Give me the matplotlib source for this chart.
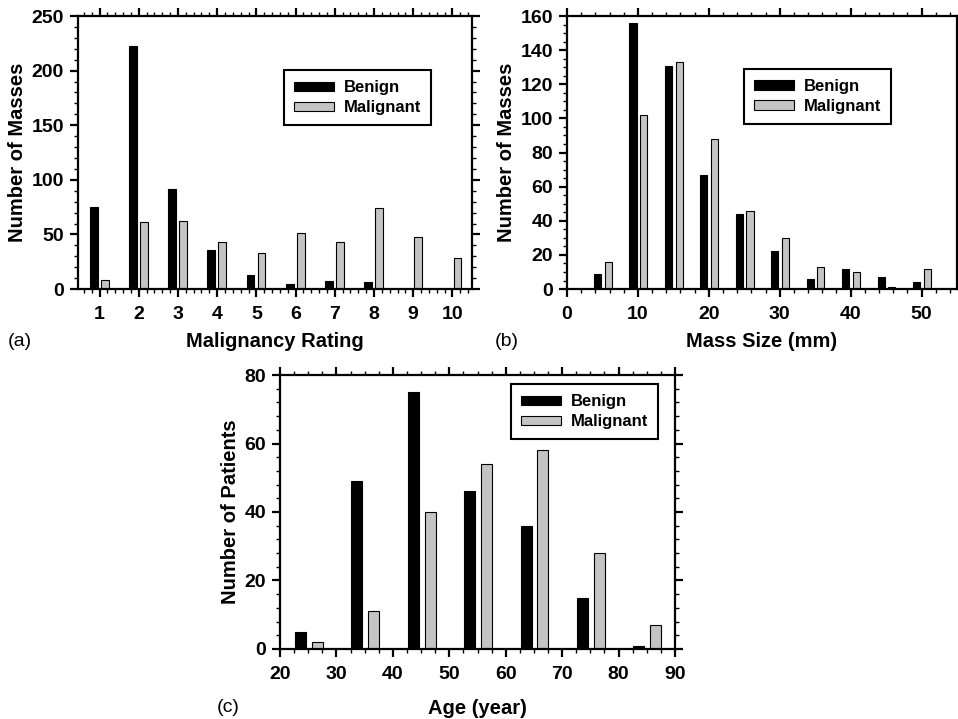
import matplotlib.pyplot as plt
from matplotlib.ticker import MultipleLocator

plt.rcParams['font.family'] = ['Liberation Sans', 'DejaVu Sans']

# (a) malignancy rating
rating = [1, 2, 3, 4, 5, 6, 7, 8, 9, 10]
rating_benign = [75, 223, 92, 36, 13, 5, 7, 6, 0, 0]
rating_malignant = [8, 61, 62, 43, 33, 51, 43, 74, 48, 28]

# (b) mass size (mm)
size_bins = [5, 10, 15, 20, 25, 30, 35, 40, 45, 50]
size_benign = [9, 156, 131, 67, 44, 22, 6, 12, 7, 4]
size_malignant = [16, 102, 133, 88, 46, 30, 13, 10, 1, 12]

# (c) age (year)
age_bins = [25, 35, 45, 55, 65, 75, 85]
age_benign = [5, 49, 75, 46, 36, 15, 1]
age_malignant = [2, 11, 40, 54, 58, 28, 7]

GRAY = '#c4c4c4'

fig = plt.figure(figsize=(9.58, 7.19), dpi=100)
ax1 = fig.add_axes([0.0814, 0.598, 0.4113, 0.3797])
ax2 = fig.add_axes([0.5919, 0.598, 0.4071, 0.3797])
ax3 = fig.add_axes([0.2923, 0.0974, 0.4123, 0.381])


def bars(ax, x, benign, malignant, off_b, off_m, width):
    ax.bar([v + off_b for v in x], benign, width=width, color='black',
           edgecolor='black', linewidth=0.8, label='Benign')
    ax.bar([v + off_m for v in x], malignant, width=width, color=GRAY,
           edgecolor='black', linewidth=0.8, label='Malignant')


def style(ax, xmaj, xmin, ymaj, ymin):
    for s in ax.spines.values():
        s.set_linewidth(1.6)
    ax.xaxis.set_major_locator(MultipleLocator(xmaj))
    ax.xaxis.set_minor_locator(MultipleLocator(xmin))
    ax.yaxis.set_major_locator(MultipleLocator(ymaj))
    ax.yaxis.set_minor_locator(MultipleLocator(ymin))
    ax.tick_params(which='both', direction='out', top=True, right=True,
                   labelsize=14)
    ax.tick_params(axis='x', pad=6)
    ax.tick_params(axis='y', pad=4)
    ax.tick_params(which='major', length=6, width=1.6)
    ax.tick_params(which='minor', length=3, width=1.0)
    for lab in ax.get_xticklabels() + ax.get_yticklabels():
        lab.set_fontweight('bold')


def legend(ax, fx, fy):
    leg = ax.legend(loc='upper left', bbox_to_anchor=(fx, fy),
                    borderaxespad=0, prop={'weight': 'bold', 'size': 12},
                    handlelength=2.4, handleheight=0.48, fancybox=False,
                    edgecolor='black', framealpha=1, borderpad=0.6,
                    labelspacing=0.3, handletextpad=0.6)
    leg.get_frame().set_linewidth(1.5)


bars(ax1, rating, rating_benign, rating_malignant, -0.15, 0.13, 0.2)
ax1.set_xlim(0.45, 10.5)
ax1.set_ylim(0, 250)
style(ax1, 1, 0.2, 50, 10)
legend(ax1, 0.523, 0.802)
ax1.set_xlabel('Malignancy Rating', fontsize=14.5, fontweight='bold', labelpad=7)
ax1.set_ylabel('Number of Masses', fontsize=14.5, fontweight='bold', labelpad=3)

bars(ax2, size_bins, size_benign, size_malignant, -0.7, 0.8, 1.0)
ax2.set_xlim(0, 55)
ax2.set_ylim(0, 160)
style(ax2, 10, 2, 20, 5)
legend(ax2, 0.454, 0.806)
ax2.set_xlabel('Mass Size (mm)', fontsize=14.5, fontweight='bold', labelpad=7)
ax2.set_ylabel('Number of Masses', fontsize=14.5, fontweight='bold', labelpad=3)

bars(ax3, age_bins, age_benign, age_malignant, -1.4, 1.6, 1.95)
ax3.set_xlim(20, 90)
ax3.set_ylim(0, 80)
style(ax3, 10, 2.5, 20, 4)
legend(ax3, 0.585, 0.967)
ax3.set_xlabel('Age (year)', fontsize=14.5, fontweight='bold', labelpad=12)
ax3.set_ylabel('Number of Patients', fontsize=14.5, fontweight='bold', labelpad=3)

fig.text(8 / 958, 1 - 341 / 719, '(a)', fontsize=14, va='center', ha='left')
fig.text(495 / 958, 1 - 341 / 719, '(b)', fontsize=14, va='center', ha='left')
fig.text(217 / 958, 1 - 707 / 719, '(c)', fontsize=14, va='center', ha='left')

fig.savefig('out.png', dpi=100)
